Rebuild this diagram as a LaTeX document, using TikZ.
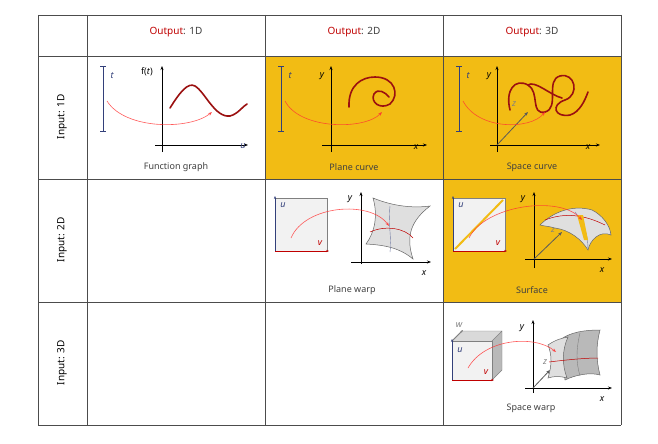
\documentclass[tikz,border=0pt]{standalone}
\usepackage{fontspec}
\setmainfont{Noto Sans}
\usetikzlibrary{arrows.meta}
\definecolor{gold}{HTML}{F2BC14}
\definecolor{hred}{HTML}{C00000}
\definecolor{crv}{HTML}{9B1010}
\definecolor{navy}{HTML}{33407A}
\begin{document}
\begin{tikzpicture}[x=1pt,y=-1pt,
 ax/.style={-{Stealth[length=4pt]},line width=0.8pt},
 zax/.style={-{Stealth[length=4pt]},line width=0.8pt,gray!70!black},
 crvs/.style={crv,line width=1.6pt,line cap=round},
 map/.style={-{Stealth[length=4pt]},red!80,line width=0.6pt,opacity=0.8},
 lbl/.style={font=\itshape\small,inner sep=0},
 captxt/.style={font=\small,text=black!75},
 hdr/.style={font=\normalsize},
 sq/.style={draw=gray,fill=gray!10,line width=0.5pt},
 warp/.style={draw=black!60,fill=gray!25,line width=0.5pt},
 grid/.style={draw=black!70,line width=0.6pt}]
\useasboundingbox (0,0) rectangle (658,444);
\fill[white] (0,0) rectangle (658,444);
% gold cells
\fill[gold] (265,56) rectangle (443,179);
\fill[gold] (443,56) rectangle (621,179);
\fill[gold] (443,179) rectangle (621,302);
% grid
\foreach \x in {38,87,265,443,621} \draw[grid] (\x,15) -- (\x,425);
\foreach \y in {15,56,179,302,425} \draw[grid] (38,\y) -- (621,\y);
% headers
\node[hdr] (h1) at (176,32) {\textcolor{hred}{Output}\textcolor{black!75}{: 1D}};
\node[hdr] (h2) at (354,32) {\textcolor{hred}{Output}\textcolor{black!75}{: 2D}};
\node[hdr] (h3) at (532,32) {\textcolor{hred}{Output}\textcolor{black!75}{: 3D}};
\node[font=\bfseries,rotate=90] (r1) at (62,117) {Input: 1D};
\node[font=\bfseries,rotate=90] (r2) at (62,240) {Input: 2D};
\node[font=\bfseries,rotate=90] (r3) at (62,363) {Input: 3D};
% ---- cell 1D-1D
\draw[navy,line width=1pt] (103,66)--(103,131) (100,66)--(106,66) (100,131)--(106,131);
\node[lbl,text=navy] (t1) at (112,76) {t};
\draw[ax] (162,152)--(162,66);
\draw[ax] (155,145)--(248,145);
\node[font=\small] (ft) at (147,72) {f(\textit{t})};
\node[lbl,text=navy] (u1) at (243,146) {u};
\draw[crvs] (170,108) .. controls (180,92) and (188,82) .. (195,86) .. controls (205,92) and (215,118) .. (230,116) .. controls (238,114) and (243,106) .. (247,104);
\coordinate (a1s) at (107,101); \coordinate (a1e) at (212,112);
\draw[map] (a1s) .. controls (125,130) and (190,130) .. (a1e);
\node[captxt] (c1) at (176,167) {Function graph};
% ---- cell 1D-2D
\draw[navy,line width=1pt] (281,66)--(281,131) (278,66)--(284,66) (278,131)--(284,131);
\node[lbl,text=navy] (t2) at (290,76) {t};
\draw[ax] (331,152)--(331,66);
\draw[ax] (322,145)--(427,145);
\node[lbl] (y2) at (322,76) {y};
\node[lbl] (x2) at (416,147) {x};
\draw[crvs] (349,107) .. controls (348,85) and (362,77) .. (375,77) .. controls (395,77) and (400,95) .. (390,104) .. controls (380,110) and (370,102) .. (374,94) .. controls (378,88) and (385,92) .. (389,97);
\coordinate (a2s) at (285,101); \coordinate (a2e) at (382,112);
\draw[map] (a2s) .. controls (300,130) and (365,130) .. (a2e);
\node[captxt] (c2) at (354,167) {Plane curve};
% ---- cell 1D-3D
\draw[navy,line width=1pt] (459,66)--(459,131) (456,66)--(462,66) (456,131)--(462,131);
\node[lbl,text=navy] (t3) at (468,76) {t};
\draw[ax] (497,152)--(497,66);
\draw[ax] (490,145)--(600,145);
\draw[zax] (497,145)--(528,112);
\node[lbl] (y3) at (489,76) {y};
\node[lbl] (x3) at (588,147) {x};
\node[lbl,text=gray] (z3) at (514,104) {z};
\draw[crvs] (510,110) .. controls (505,90) and (515,78) .. (528,85) .. controls (540,92) and (530,115) .. (545,112) .. controls (560,108) and (545,80) .. (560,76) .. controls (575,72) and (580,95) .. (565,100) .. controls (550,105) and (555,118) .. (570,115) .. controls (580,112) and (585,100) .. (588,92);
\draw[crvs] (528,85) .. controls (535,80) and (550,95) .. (562,98);
\coordinate (a3s) at (463,101); \coordinate (a3e) at (545,112);
\draw[map] (a3s) .. controls (478,130) and (530,130) .. (a3e);
\node[captxt] (c3) at (532,167) {Space curve};
% ---- cell 2D-2D
\draw[sq] (275,198) rectangle (327,251);
\draw[-{Stealth[length=3pt]},navy,line width=0.8pt] (275,251)--(275,196);
\draw[-{Stealth[length=3pt]},hred,line width=0.8pt] (275,251)--(329,251);
\node[lbl,text=navy] (u4) at (283,205) {u};
\node[lbl,text=hred] (v4) at (320,243) {v};
\draw[ax] (361,264)--(361,192);
\draw[ax] (351,262)--(431,262);
\node[lbl] (y4) at (350,199) {y};
\node[lbl] (x4) at (424,273) {x};
\draw[warp] (373,198) .. controls (395,207) and (415,208) .. (430,206) .. controls (412,220) and (405,235) .. (413,259) .. controls (400,248) and (385,245) .. (366,244) .. controls (375,232) and (378,215) .. (373,198) -- cycle;
\draw[navy!70,line width=0.4pt] (390,206) .. controls (388,225) and (392,240) .. (390,252);
\draw[hred,line width=0.5pt] (370,232) .. controls (385,225) and (405,228) .. (413,238);
\coordinate (a4s) at (291,238); \coordinate (a4e) at (389,226);
\draw[map] (a4s) .. controls (305,205) and (370,200) .. (a4e);
\node[captxt] (c4) at (352,290) {Plane warp};
% ---- cell 2D-3D
\draw[sq] (453,198) rectangle (505,251);
\draw[gold,line width=2pt] (455,249)--(503,200);
\draw[-{Stealth[length=3pt]},navy,line width=0.8pt] (453,251)--(453,196);
\draw[-{Stealth[length=3pt]},hred,line width=0.8pt] (453,251)--(507,251);
\node[lbl,text=navy] (u5) at (461,205) {u};
\node[lbl,text=hred] (v5) at (498,243) {v};
\draw[ax] (534,268)--(534,192);
\draw[ax] (525,259)--(612,259);
\draw[zax] (534,259)--(562,232);
\node[lbl] (y5) at (523,199) {y};
\node[lbl] (x5) at (602,270) {x};
\node[lbl,text=gray] (z5) at (553,230) {z};
\draw[warp] (540,225) .. controls (555,210) and (575,205) .. (592,210) .. controls (602,215) and (610,225) .. (611,235) .. controls (600,230) and (590,240) .. (588,250) .. controls (582,240) and (570,230) .. (555,228) .. controls (548,226) and (543,226) .. (540,225) -- cycle;
\draw[hred,line width=0.5pt] (545,220) .. controls (565,212) and (585,215) .. (605,225);
\draw[navy!70,line width=0.4pt] (575,212) .. controls (585,225) and (588,235) .. (588,250);
\fill[gold] (577,215)--(583,215)--(588,240)--(584,240)--cycle;
\coordinate (a5s) at (469,238); \coordinate (a5e) at (582,220);
\draw[map] (a5s) .. controls (485,205) and (560,195) .. (a5e);
\node[captxt] (c5) at (532,290) {Surface};
% ---- cell 3D-3D
\fill[gray!55] (492,341)--(502,331)--(502,370)--(492,380)--cycle;
\fill[gray!30] (452,341)--(462,331)--(502,331)--(492,341)--cycle;
\draw[draw=gray,line width=0.4pt] (492,341)--(502,331)--(502,370)--(492,380) (452,341)--(462,331)--(502,331);
\draw[sq] (452,341) rectangle (492,380);
\draw[-{Stealth[length=3pt]},gray,line width=0.8pt] (452,341)--(463,330);
\draw[-{Stealth[length=3pt]},navy,line width=0.8pt] (452,380)--(452,339);
\draw[-{Stealth[length=3pt]},hred,line width=0.8pt] (452,380)--(494,380);
\node[lbl,text=gray] (w6) at (459,325) {w};
\node[lbl,text=navy] (u6) at (460,350) {u};
\node[lbl,text=hred] (v6) at (486,372) {v};
\draw[ax] (533,393)--(533,320);
\draw[ax] (525,388)--(612,388);
\draw[zax] (533,388)--(550,370);
\node[lbl] (y6) at (522,328) {y};
\node[lbl] (x6) at (602,399) {x};
\node[lbl,text=gray] (z6) at (545,362) {z};
\draw[warp,fill=gray!55] (560,340) .. controls (570,332) and (585,330) .. (600,330) .. controls (596,345) and (596,360) .. (600,375) .. controls (590,372) and (575,375) .. (565,380) -- cycle;
\draw[warp] (548,345) .. controls (555,340) and (562,338) .. (568,337) .. controls (562,350) and (562,365) .. (567,378) .. controls (560,376) and (554,376) .. (548,378) .. controls (552,365) and (552,355) .. (548,345) -- cycle;
\draw[black!50,line width=0.4pt] (580,333) .. controls (576,350) and (576,362) .. (580,376);
\draw[hred,line width=0.5pt] (549,362) .. controls (565,360) and (585,358) .. (598,358);
\coordinate (a6s) at (468,368); \coordinate (a6e) at (556,352);
\draw[map] (a6s) .. controls (485,338) and (535,335) .. (a6e);
\node[captxt] (c6) at (531,408) {Space warp};
\end{tikzpicture}
\end{document}
